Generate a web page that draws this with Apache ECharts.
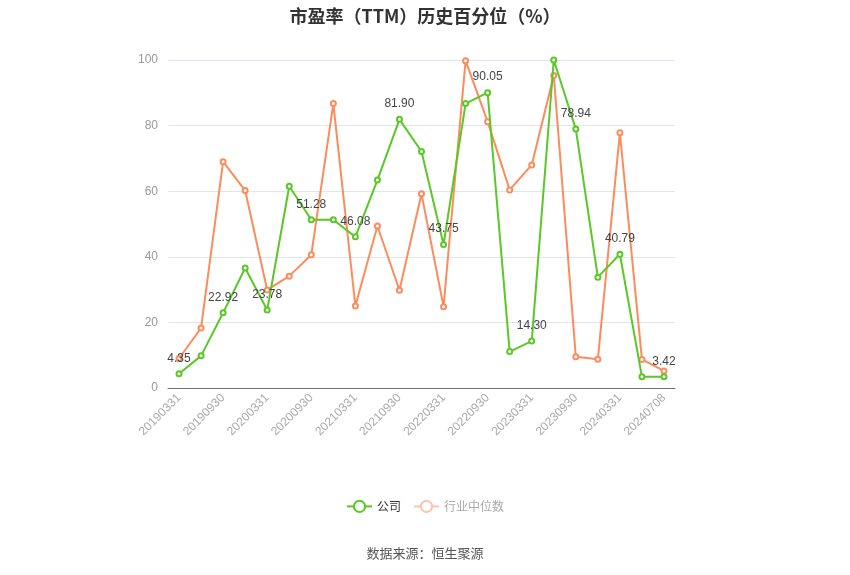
<!DOCTYPE html>
<html>
<head>
<meta charset="utf-8">
<script src="https://cdn.jsdelivr.net/npm/echarts@6/dist/echarts.min.js"></script>
<style>html,body{margin:0;padding:0;background:#fff;}#main{width:850px;height:575px;}</style>
</head>
<body>
<div id="main"></div>
<script>
var categories = ['20190331','20190630','20190930','20191231','20200331','20200630','20200930','20201231','20210331','20210630','20210930','20211231','20220331','20220630','20220930','20221231','20230331','20230630','20230930','20231231','20240331','20240630','20240708'];
var companyValues = [4.35, 9.8, 22.92, 36.6, 23.78, 61.5, 51.28, 51.3, 46.08, 63.4, 81.90, 72.1, 43.75, 86.7, 90.05, 11.1, 14.30, 100.0, 78.94, 33.8, 40.79, 3.4, 3.42];
var industryValues = [9.0, 18.3, 69.0, 60.2, 29.9, 34.1, 40.6, 86.7, 25.0, 49.4, 29.8, 59.2, 24.8, 99.8, 81.2, 60.4, 68.0, 95.3, 9.5, 8.8, 77.8, 8.7, 5.2];
var yTicks = [0, 20, 40, 60, 80, 100];

var companyData = companyValues.map(function (v, i) {
  return { value: v, label: { show: i % 2 === 0 } };
});

var chart = echarts.init(document.getElementById('main'));
chart.setOption({
  animation: false,
  title: {
    text: '市盈率（TTM）历史百分位（%）',
    left: 'center',
    top: 2,
    textStyle: { fontSize: 18, fontWeight: 'bold', color: '#333', fontFamily: 'Noto Sans CJK SC' }
  },
  legend: {
    bottom: 57,
    left: 'center',
    itemGap: 12,
    textStyle: { fontSize: 12, color: '#333', fontFamily: 'Noto Sans CJK SC' },
    data: [
      { name: '公司' },
      { name: '行业中位数', textStyle: { color: '#aaa' }, itemStyle: { color: '#ffc2ad', borderColor: '#ffc2ad' }, lineStyle: { color: '#ffc2ad' } }
    ]
  },
  graphic: [{
    type: 'text',
    left: 'center',
    top: 547,
    style: { text: '数据来源：恒生聚源', fontSize: 13, fill: '#555', fontFamily: 'Noto Sans CJK SC' }
  }],
  grid: { left: 168, right: 175, top: 60, bottom: 187, containLabel: false },
  xAxis: {
    type: 'category',
    data: categories,
    boundaryGap: true,
    axisLine: { lineStyle: { color: '#6e7079' } },
    axisTick: { alignWithLabel: true, interval: 1 },
    axisLabel: { rotate: 45, interval: 1, fontSize: 12, color: '#aaa', margin: 8 }
  },
  yAxis: {
    type: 'value',
    min: yTicks[0],
    max: yTicks[yTicks.length - 1],
    interval: 20,
    axisLine: { show: false },
    axisTick: { show: false },
    axisLabel: { fontSize: 12, color: '#999', margin: 10 },
    splitLine: { lineStyle: { color: '#e0e6f1' } }
  },
  series: [
    {
      name: '公司',
      type: 'line',
      data: companyData,
      symbol: 'emptyCircle',
      symbolSize: 5,
      z: 3,
      lineStyle: { width: 2, color: '#5ac826' },
      itemStyle: { color: '#5ac826', borderWidth: 2 },
      label: {
        position: 'top', fontSize: 12, color: '#444', distance: 6,
        formatter: function (p) { return Number(p.value).toFixed(2); }
      }
    },
    {
      name: '行业中位数',
      type: 'line',
      data: industryValues,
      symbol: 'emptyCircle',
      symbolSize: 5,
      z: 2,
      lineStyle: { width: 2, color: '#fd8c5c' },
      itemStyle: { color: '#fd8c5c', borderWidth: 2 }
    }
  ]
});
</script>
</body>
</html>
